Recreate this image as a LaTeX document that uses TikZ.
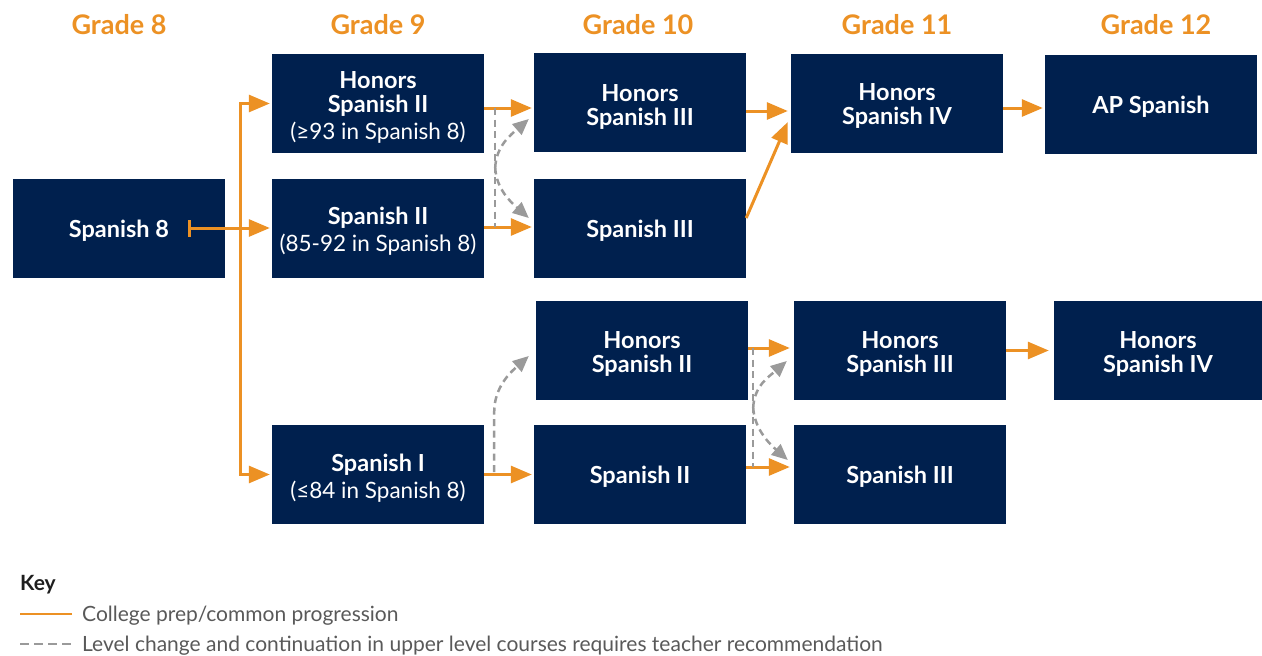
\documentclass[tikz,border=0pt]{standalone}
\usepackage{fontspec}
\setmainfont{Lato}
\usetikzlibrary{arrows.meta,calc}
\definecolor{navy}{HTML}{00204E}
\definecolor{orng}{HTML}{EC9124}
\definecolor{gdash}{HTML}{9A9A9A}
\definecolor{keytxt}{HTML}{595959}
\definecolor{keyhd}{HTML}{1E1E1E}
\begin{document}
\begin{tikzpicture}[x=1pt,y=-1pt,
  box/.style={fill=navy, minimum width=212pt, minimum height=99pt, inner sep=0pt},
  boxtext/.style={text=white, inner sep=0pt, align=center, font=\bfseries\fontsize{23.5}{24}\selectfont},
  grade/.style={text=orng, font=\bfseries\fontsize{27}{30}\selectfont, inner sep=0pt},
  otip/.style={-{Triangle[length=21pt,width=17pt]}},
  oarrow/.style={draw=orng, line width=3pt, otip},
  oline/.style={draw=orng, line width=3pt},
  gline/.style={draw=gdash, line width=2.5pt, dash pattern=on 7pt off 4.5pt},
  garrow/.style={gline, -{Triangle[length=16pt,width=14pt]}},
  keytext/.style={text=keytxt, font=\fontsize{21}{24}\selectfont, inner sep=0pt, anchor=west},
]
\useasboundingbox (0,0) rectangle (1262,656);
\newcommand{\subl}[1]{{\mdseries\fontsize{22.5}{27}\selectfont #1}}
% headers
\node[grade] (g8) at (119,25) {Grade 8};
\node[grade] (g9) at (378,25) {Grade 9};
\node[grade] (g10) at (638,25) {Grade 10};
\node[grade] (g11) at (897,25) {Grade 11};
\node[grade] (g12) at (1156,25) {Grade 12};
% boxes
\node[box] (s8) at (119,228) {};
\node[box] (h2a) at (378,103.5) {};
\node[box] (s2a) at (378,228.5) {};
\node[box] (s1) at (378,474.5) {};
\node[box] (h3a) at (640,102.5) {};
\node[box] (s3a) at (640,228.5) {};
\node[box] (h2b) at (642,350.5) {};
\node[box] (s2b) at (640,474) {};
\node[box] (h4a) at (897,103.5) {};
\node[box] (h3b) at (900,350.5) {};
\node[box] (s3b) at (900,474.5) {};
\node[box] (ap) at (1151,104.5) {};
\node[box, minimum width=208pt] (h4b) at (1158,350.5) {};
% box texts
\node[boxtext] (s8t) at ([yshift=-2.5pt]s8.center) {Spanish 8};
\node[boxtext] (h2at) at ([yshift=-3.5pt]h2a.center) {Honors\\Spanish II\\[3pt]\subl{(≥93 in Spanish 8)}};
\node[boxtext] (s2at) at ([yshift=-2.5pt]s2a.center) {Spanish II\\[3pt]\subl{(85-92 in Spanish 8)}};
\node[boxtext] (s1t) at ([yshift=-3.5pt]s1.center) {Spanish I\\[3pt]\subl{(≤84 in Spanish 8)}};
\node[boxtext] (h3at) at ([yshift=-4.5pt]h3a.center) {Honors\\Spanish III};
\node[boxtext] (s3at) at ([yshift=-2.5pt]s3a.center) {Spanish III};
\node[boxtext] (h2bt) at ([yshift=-3.5pt]h2b.center) {Honors\\Spanish II};
\node[boxtext] (s2bt) at ([yshift=-2.5pt]s2b.center) {Spanish II};
\node[boxtext] (h4at) at ([yshift=-2.5pt]h4a.center) {Honors\\Spanish IV};
\node[boxtext] (h3bt) at ([yshift=-3.5pt]h3b.center) {Honors\\Spanish III};
\node[boxtext] (s3bt) at ([yshift=-2.5pt]s3b.center) {Spanish III};
\node[boxtext] (apt) at ([yshift=-2.5pt]ap.center) {AP Spanish};
\node[boxtext] (h4bt) at ([yshift=-3.5pt]h4b.center) {Honors\\Spanish IV};
% grade 8 -> 9
\coordinate (tk) at (240,0);
\draw[oline, {Bar[width=17pt]}-{Triangle[length=21pt,width=17pt]}, shorten >=2pt] ([xshift=-37pt]s8.east) -- (s8.east -| s2a.west);
\draw[oline, {Triangle[length=21pt,width=17pt]}-{Triangle[length=21pt,width=17pt]}, shorten <=2pt, shorten >=2pt]
  (h2a.west) -- (tk |- h2a.west) -- (tk |- s1.west) -- (s1.west);
% grade 9 -> 10 upper
\draw[oarrow, shorten >=2pt] ([yshift=-4.5pt]h2a.east) -- ([yshift=-4.5pt]h2a.east -| h3a.west);
\draw[oarrow, shorten >=2pt] ([yshift=1.5pt]s2a.east) -- ([yshift=1.5pt]s2a.east -| s3a.west);
\coordinate (da) at ([xshift=11pt,yshift=-4.5pt]h2a.east);
\coordinate (db) at ([xshift=11pt,yshift=1.5pt]s2a.east);
\draw[gline] (da) -- (db);
\coordinate (dm) at ($(da)!0.5!(db)$);
\coordinate (dat) at ([xshift=-5pt,yshift=-16.5pt]h3a.west);
\coordinate (dbt) at ([xshift=-5pt,yshift=10.5pt]s3a.west);
\draw[garrow] (dm) .. controls ($(dm)+(1,-22)$) and ($(dat)+(-17,15)$) .. (dat);
\draw[garrow] (dm) .. controls ($(dm)+(1,22)$) and ($(dbt)+(-17,-15)$) .. (dbt);
% grade 9 -> 10 lower
\draw[oarrow, shorten >=2pt] (s1.east) -- (s1.east -| s2b.west);
\coordinate (dc) at ([xshift=10pt,yshift=2.5pt]s1.east);
\coordinate (dct) at ([xshift=-7pt,yshift=-5.5pt]h2b.west);
\draw[garrow] (dc) -- ($(dc)+(0,-60)$) .. controls ($(dc)+(0,-85)$) and ($(dct)+(-18,16)$) .. (dct);
% grade 10 -> 11 upper
\draw[oarrow, shorten >=3pt] ([yshift=-8.5pt]h3a.east) -- ([yshift=-8.5pt]h3a.east -| h4a.west);
\draw[oarrow] ([yshift=10.5pt]s3a.east) -- ([xshift=-3pt,yshift=-18.5pt]h4a.west);
% grade 10 -> 11 lower
\draw[oarrow, shorten >=4pt] ([yshift=2.5pt]h2b.east) -- ([yshift=2.5pt]h2b.east -| h3b.west);
\draw[oarrow, shorten >=4pt] ([yshift=7pt]s2b.east) -- ([yshift=7pt]s2b.east -| s3b.west);
\coordinate (de) at ([xshift=5pt,yshift=2.5pt]h2b.east);
\coordinate (df) at ([xshift=7pt,yshift=7pt]s2b.east);
\draw[gline] (de) -- (df);
\coordinate (dn) at ($(de)!0.5!(df)$);
\coordinate (det) at ([xshift=-7pt,yshift=-10.5pt]h3b.west);
\coordinate (dft) at ([xshift=-6pt,yshift=14.5pt]s3b.west);
\draw[garrow] (dn) .. controls ($(dn)+(1,-22)$) and ($(det)+(-17,15)$) .. (det);
\draw[garrow] (dn) .. controls ($(dn)+(1,22)$) and ($(dft)+(-17,-15)$) .. (dft);
% grade 11 -> 12
\draw[oarrow, shorten >=2pt] ([yshift=-4.5pt]h4a.east) -- ([yshift=-4.5pt]h4a.east -| ap.west);
\draw[oarrow, shorten >=5pt] (h3b.east) -- (h3b.east -| h4b.west);
% key
\node[inner sep=0pt, anchor=base west, text=keyhd, font=\bfseries\fontsize{21}{24}\selectfont] (key) at (20,590) {Key};
\node[keytext] (k1) at (82,615.5) {College prep/common progression};
\node[keytext] (k2) at (82,645.5) {Level change and continuation in upper level courses requires teacher recommendation};
\draw[draw=orng, line width=2pt] ([xshift=-10pt,yshift=1.5pt]k1.west) -- ([xshift=-62pt,yshift=1.5pt]k1.west);
\draw[draw=gdash, line width=2pt, dash pattern=on 8.5pt off 5.5pt] ([xshift=-62pt,yshift=1.5pt]k2.west) -- ([xshift=-10pt,yshift=1.5pt]k2.west);
\end{tikzpicture}
\end{document}
